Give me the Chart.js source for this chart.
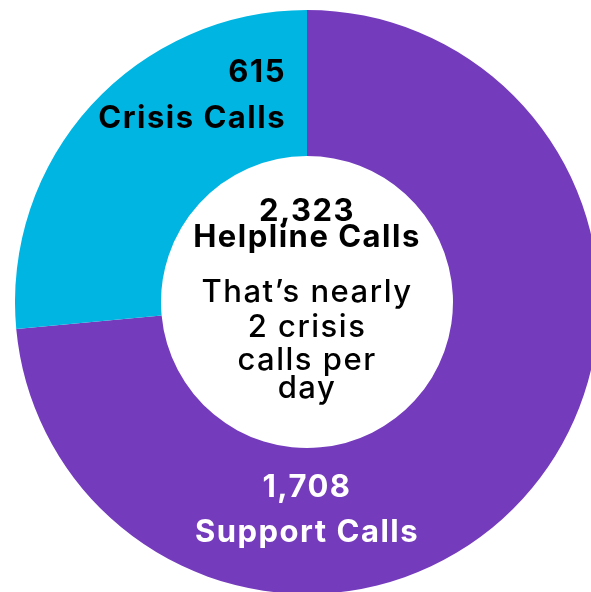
<!DOCTYPE html>
<html>
<head>
<meta charset="utf-8">
<script src="https://cdn.jsdelivr.net/npm/chart.js@4"></script>
<style>
    html, body { margin: 0; padding: 0; background: #fff; overflow: hidden; width: 591px; height: 592px; }
    #wrap { position: absolute; left: 15px; top: 10px; width: 584px; height: 584px; }
</style>
</head>
<body>
<div id="wrap"><canvas id="callsChart"></canvas></div>
<script>
// Helpline call split
const categories = ['Support Calls', 'Crisis Calls'];
const callCounts = [1708, 615];
const segmentColors = ['#753BBD', '#00B5E2'];
const totalLabel = 'Helpline Calls';
const noteLines = ['That\u2019s nearly', '2 crisis', 'calls per', 'day'];

const fmt = n => n.toLocaleString('en-US');

// draws the text labels on top of the doughnut
const labelPlugin = {
    id: 'donutLabels',
    afterDraw(chart) {
        const ctx = chart.ctx;
        const arc = chart.getDatasetMeta(0).data[0];
        const cx = arc.x, cy = arc.y;
        const total = callCounts.reduce((a, b) => a + b, 0);
        ctx.save();
        ctx.textBaseline = 'alphabetic';
        ctx.letterSpacing = '1.5px';

        // crisis label (top left segment)
        ctx.fillStyle = '#000';
        ctx.textAlign = 'right';
        ctx.font = '700 31px Inter';
        ctx.fillText(fmt(callCounts[1]), cx - 21, cy - 220);
        ctx.fillText(categories[1], cx - 21, cy - 174);

        // support label (bottom)
        ctx.fillStyle = '#fff';
        ctx.textAlign = 'center';
        ctx.fillText(fmt(callCounts[0]), cx, cy + 195);
        ctx.fillText(categories[0], cx, cy + 240);

        // centre text
        ctx.fillStyle = '#000';
        ctx.fillText(fmt(total), cx, cy - 81);
        ctx.fillText(totalLabel, cx, cy - 55);
        ctx.font = '500 31px Inter';
        const offsets = [0, 35, 68, 96];
        noteLines.forEach((line, i) => ctx.fillText(line, cx, cy + offsets[i]));
        ctx.restore();
    }
};

new Chart(document.getElementById('callsChart'), {
    type: 'doughnut',
    data: {
        labels: categories,
        datasets: [{
            data: callCounts,
            backgroundColor: segmentColors,
            borderWidth: 0
        }]
    },
    options: {
        responsive: true,
        maintainAspectRatio: false,
        animation: false,
        cutout: '50%',
        layout: { padding: 0 },
        plugins: {
            legend: { display: false },
            tooltip: { enabled: false }
        }
    },
    plugins: [labelPlugin]
});
</script>
</body>
</html>
